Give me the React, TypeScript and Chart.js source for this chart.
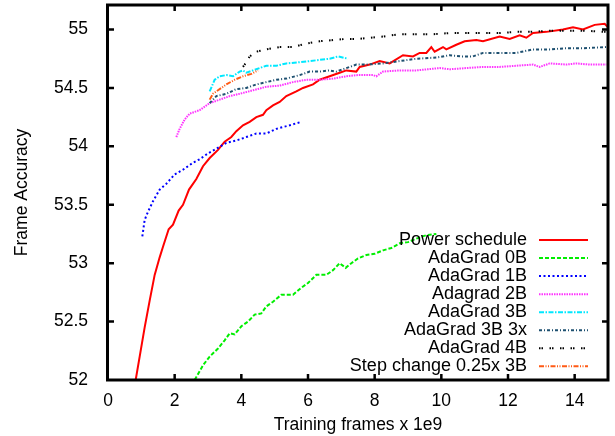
import React, { useEffect, useRef } from "react";
import { Chart, registerables } from "chart.js";

Chart.register(...registerables);

const FONT = "'Liberation Sans', Arial, Helvetica, sans-serif";

const xTicks = [0, 2, 4, 6, 8, 10, 12, 14];
const yTicks = [52, 52.5, 53, 53.5, 54, 54.5, 55];
const xRange = [0, 15];
const yRange = [52, 55.21];

const seriesLabels = [
  "Power schedule",
  "AdaGrad 0B",
  "AdaGrad 1B",
  "Adagrad 2B",
  "AdaGrad 3B",
  "AdaGrad 3B 3x",
  "AdaGrad 4B",
  "Step change 0.25x 3B",
];

const powerX = [0.83, 0.95, 1.1, 1.25, 1.4, 1.55, 1.65, 1.82, 1.95, 2.12, 2.25, 2.43, 2.65, 2.85, 3.05, 3.3, 3.5, 3.7, 3.85, 4.05, 4.25, 4.45, 4.65, 4.75, 4.95, 5.15, 5.35, 5.65, 5.85, 6.15, 6.35, 6.65, 6.95, 7.15, 7.45, 7.55, 7.85, 8.15, 8.45, 8.85, 9.15, 9.35, 9.55, 9.7, 9.8, 10.05, 10.15, 10.45, 10.7, 11.05, 11.25, 11.75, 12.05, 12.35, 12.55, 12.75, 13.15, 13.65, 13.95, 14.25, 14.6, 14.9, 15.0];
const powerY = [52.0, 52.2, 52.45, 52.68, 52.9, 53.05, 53.14, 53.29, 53.33, 53.45, 53.5, 53.63, 53.72, 53.83, 53.9, 53.97, 54.04, 54.08, 54.13, 54.18, 54.21, 54.25, 54.27, 54.31, 54.35, 54.38, 54.43, 54.47, 54.5, 54.53, 54.57, 54.6, 54.63, 54.65, 54.64, 54.68, 54.7, 54.73, 54.71, 54.78, 54.77, 54.8, 54.8, 54.85, 54.81, 54.85, 54.83, 54.87, 54.9, 54.91, 54.9, 54.94, 54.92, 54.95, 54.93, 54.97, 54.98, 55.0, 55.02, 55.0, 55.04, 55.05, 55.02];

const ada0X = [2.6, 2.86, 3.05, 3.3, 3.5, 3.65, 3.8, 4.0, 4.2, 4.4, 4.6, 4.75, 4.95, 5.2, 5.55, 5.8, 6.0, 6.25, 6.55, 6.75, 6.95, 7.13, 7.3, 7.5, 7.75, 8.0, 8.25, 8.5, 8.75, 9.0, 9.25, 9.55, 9.85];
const ada0Y = [52.0, 52.13, 52.2, 52.27, 52.34, 52.4, 52.39, 52.46, 52.5, 52.56, 52.57, 52.63, 52.67, 52.73, 52.73, 52.79, 52.83, 52.9, 52.9, 52.94, 53.0, 52.96, 53.0, 53.04, 53.07, 53.08, 53.11, 53.13, 53.17, 53.18, 53.21, 53.24, 53.25];

const ada1X = [1.03, 1.1, 1.2, 1.35, 1.55, 1.75, 2.0, 2.25, 2.55, 2.75, 3.0, 3.25, 3.55, 3.85, 4.15, 4.45, 4.75, 5.05, 5.45, 5.8];
const ada1Y = [53.23, 53.37, 53.44, 53.53, 53.63, 53.68, 53.76, 53.8, 53.86, 53.89, 53.94, 53.98, 54.03, 54.05, 54.08, 54.11, 54.11, 54.15, 54.18, 54.21];

const ada2X = [2.05, 2.15, 2.3, 2.45, 2.75, 3.05, 3.35, 3.65, 3.95, 4.35, 4.75, 5.15, 5.55, 5.95, 6.35, 6.75, 7.15, 7.5, 7.95, 8.05, 8.25, 8.75, 9.25, 9.95, 10.25, 10.75, 11.25, 11.75, 12.25, 12.75, 12.95, 13.25, 13.75, 14.05, 14.45, 14.95];
const ada2Y = [54.08, 54.15, 54.23, 54.28, 54.31, 54.37, 54.4, 54.43, 54.45, 54.48, 54.51, 54.52, 54.55, 54.57, 54.57, 54.58, 54.6, 54.61, 54.61, 54.6, 54.64, 54.65, 54.65, 54.67, 54.66, 54.67, 54.68, 54.68, 54.69, 54.7, 54.68, 54.71, 54.7, 54.71, 54.7, 54.7];

const ada3X = [3.05, 3.2, 3.35, 3.55, 3.75, 3.95, 4.05, 4.15, 4.35, 4.55, 4.75, 5.05, 5.35, 5.75, 6.05, 6.35, 6.65, 6.9, 7.2];
const ada3Y = [54.47, 54.57, 54.6, 54.61, 54.6, 54.64, 54.65, 54.63, 54.65, 54.67, 54.69, 54.69, 54.71, 54.72, 54.73, 54.74, 54.75, 54.77, 54.75];

const ada3x3X = [3.05, 3.25, 3.55, 3.85, 4.15, 4.45, 4.75, 5.05, 5.35, 5.75, 6.05, 6.35, 6.65, 6.85, 7.15, 7.45, 7.75, 8.25, 8.75, 9.25, 9.85, 10.25, 10.6, 10.95, 11.25, 11.75, 12.25, 12.75, 13.25, 13.75, 14.25, 14.95];
const ada3x3Y = [54.37, 54.43, 54.45, 54.49, 54.5, 54.53, 54.55, 54.57, 54.58, 54.61, 54.64, 54.64, 54.65, 54.64, 54.67, 54.7, 54.7, 54.71, 54.73, 54.75, 54.76, 54.78, 54.77, 54.77, 54.8, 54.8, 54.8, 54.83, 54.83, 54.84, 54.84, 54.85];

const ada4X = [4.05, 4.15, 4.25, 4.45, 4.75, 5.15, 5.55, 5.95, 6.35, 6.75, 7.15, 7.5, 8.25, 8.75, 9.25, 9.75, 10.25, 10.75, 11.25, 11.75, 12.25, 12.75, 13.25, 13.75, 14.25, 14.95];
const ada4Y = [54.68, 54.72, 54.77, 54.81, 54.83, 54.85, 54.85, 54.88, 54.9, 54.91, 54.92, 54.92, 54.94, 54.96, 54.96, 54.96, 54.97, 54.97, 54.97, 54.97, 54.98, 54.98, 54.99, 54.99, 54.99, 54.98];

const stepX = [3.05, 3.15, 3.3, 3.55, 3.8, 4.05, 4.3, 4.5];
const stepY = [54.4, 54.45, 54.48, 54.53, 54.57, 54.6, 54.62, 54.65];

const seriesX = [powerX, ada0X, ada1X, ada2X, ada3X, ada3x3X, ada4X, stepX];
const seriesY = [powerY, ada0Y, ada1Y, ada2Y, ada3Y, ada3x3Y, ada4Y, stepY];

const seriesColors = ["#ff0000", "#00ee00", "#0000ff", "#ff33ff", "#00e8ff", "#1e5070", "#000000", "#ff5a14"];
const seriesDash = [[], [4, 2], [2, 2.5], [1.5, 1], [5, 1.5, 1.5, 1.5], [3, 2, 1, 2], [1.5, 1, 1.5, 6.5], [5, 1.5, 1, 1.5, 1, 1.5]];

const framePlugin = {
  id: "gpFrame",
  afterDatasetsDraw(chart: any) {
    const { ctx, chartArea, scales } = chart;
    const { left, right, top, bottom } = chartArea;
    ctx.save();
    ctx.strokeStyle = "#000";
    ctx.lineWidth = 2.5;
    ctx.setLineDash([]);
    const tl = 6;
    ctx.beginPath();
    xTicks.forEach((v) => {
      const px = scales.x.getPixelForValue(v);
      if (px <= left + 1 || px >= right - 1) return;
      ctx.moveTo(px, bottom);
      ctx.lineTo(px, bottom - tl);
      ctx.moveTo(px, top);
      ctx.lineTo(px, top + tl);
    });
    yTicks.forEach((v) => {
      const py = scales.y.getPixelForValue(v);
      if (py <= top + 1 || py >= bottom - 1) return;
      ctx.moveTo(left, py);
      ctx.lineTo(left + tl, py);
      ctx.moveTo(right, py);
      ctx.lineTo(right - tl, py);
    });
    ctx.stroke();
    ctx.lineWidth = 3;
    ctx.strokeRect(left - 0.5, top, right - left + 0.5, bottom - top);
    ctx.restore();
  },
};

const legendPlugin = {
  id: "gpLegend",
  afterDraw(chart: any) {
    const { ctx, chartArea } = chart;
    ctx.save();
    ctx.font = `18px ${FONT}`;
    ctx.textAlign = "right";
    ctx.textBaseline = "middle";
    chart.data.datasets.forEach((ds: any, i: number) => {
      const y = chartArea.bottom - 140 + i * 18.05;
      ctx.fillStyle = "#000";
      ctx.fillText(ds.label, chartArea.right - 81, y);
      ctx.beginPath();
      ctx.setLineDash(ds.borderDash || []);
      ctx.strokeStyle = ds.borderColor;
      ctx.lineWidth = ds.borderWidth;
      ctx.moveTo(chartArea.right - 69, y);
      ctx.lineTo(chartArea.right - 20, y);
      ctx.stroke();
    });
    ctx.restore();
  },
};

export default function App() {
  const ref = useRef<HTMLCanvasElement>(null);

  useEffect(() => {
    if (!ref.current) return;
    const n = seriesLabels.length;
    const datasets = seriesLabels.map((label, i) => ({
      label,
      data: seriesX[i].map((x, j) => ({ x, y: seriesY[i][j] })),
      borderColor: seriesColors[i],
      backgroundColor: seriesColors[i],
      borderDash: seriesDash[i],
      borderWidth: 2,
      pointRadius: 0,
      fill: false,
      tension: 0,
      order: n - i,
    }));
    const tickFont = { family: FONT, size: 17.5 };
    const chart = new Chart(ref.current, {
      type: "line",
      data: { datasets },
      options: {
        animation: false,
        responsive: false,
        devicePixelRatio: 1,
        layout: { padding: { left: 0, top: 5, right: 7, bottom: 0 } },
        plugins: { legend: { display: false }, tooltip: { enabled: false } },
        scales: {
          x: {
            type: "linear",
            min: xRange[0],
            max: xRange[1],
            bounds: "data",
            afterDataLimits: (s: any) => { s.min = xRange[0]; s.max = xRange[1]; },
            afterFit: (s: any) => {
              s.height = 56;
              s.paddingLeft = 0;
              s.paddingRight = 0;
              s.paddingTop = 0;
              s.paddingBottom = 0;
            },
            afterBuildTicks: (s: any) => {
              s.ticks = xTicks.map((v) => ({ value: v }));
              s.min = xRange[0];
              s.max = xRange[1];
            },
            grid: { display: false, drawTicks: false },
            border: { display: false },
            ticks: {
              color: "#000",
              font: tickFont,
              padding: 11,
              maxRotation: 0,
              autoSkip: false,
              callback: (v: any) => String(v),
            },
            title: {
              display: true,
              text: "Training frames x 1e9",
              color: "#000",
              font: tickFont,
              padding: { top: 0, bottom: 0 },
            },
          },
          y: {
            type: "linear",
            min: yRange[0],
            max: yRange[1],
            bounds: "data",
            afterDataLimits: (s: any) => { s.min = yRange[0]; s.max = yRange[1]; },
            afterFit: (s: any) => {
              s.width = 108;
              s.paddingLeft = 0;
              s.paddingRight = 0;
              s.paddingTop = 0;
              s.paddingBottom = 0;
            },
            afterBuildTicks: (s: any) => {
              s.ticks = yTicks.map((v) => ({ value: v }));
              s.min = yRange[0];
              s.max = yRange[1];
            },
            grid: { display: false, drawTicks: false },
            border: { display: false },
            ticks: {
              color: "#000",
              font: tickFont,
              padding: 20,
              autoSkip: false,
              callback: (v: any) => String(v),
            },
            title: {
              display: true,
              text: "Frame Accuracy",
              color: "#000",
              font: tickFont,
              padding: { top: 12, bottom: 0 },
            },
          },
        },
      },
      plugins: [framePlugin, legendPlugin],
    });
    return () => chart.destroy();
  }, []);

  return (
    <div style={{ position: "absolute", left: 0, top: 0, width: 615, height: 436, background: "#fff" }}>
      <canvas ref={ref} width={615} height={436} style={{ display: "block" }} />
    </div>
  );
}
